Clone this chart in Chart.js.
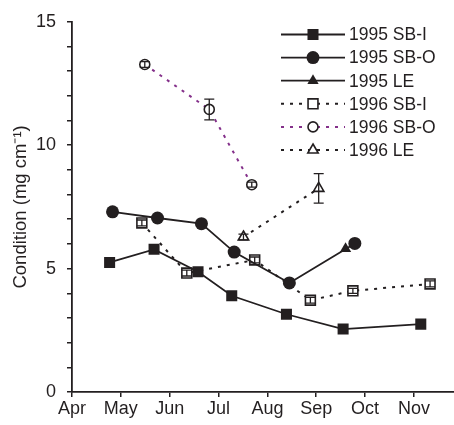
<!DOCTYPE html>
<html>
<head>
<meta charset="utf-8">
<script src="https://cdn.jsdelivr.net/npm/chart.js@4.4.1/dist/chart.umd.min.js"></script>
<style>
  html, body { margin: 0; padding: 0; background: #fff; overflow: hidden; }
</style>
</head>
<body>
<canvas id="myChart" width="454" height="425"></canvas>
<script>
// Monate auf der x-Achse (Apr = 0)
const monthLabels = ['Apr', 'May', 'Jun', 'Jul', 'Aug', 'Sep', 'Oct', 'Nov'];

// 1995 Serien (x = Monat, y = Condition)
const sbi95X = [0.77, 1.68, 2.58, 3.27, 4.39, 5.55, 7.14];
const sbi95Y = [5.25, 5.78, 4.87, 3.9, 3.15, 2.55, 2.75];
const sbo95X = [0.83, 1.75, 2.65, 3.32, 4.45, 5.79];
const sbo95Y = [7.3, 7.05, 6.82, 5.67, 4.42, 6.02];
const le95X = [5.6];
const le95Y = [5.8];

// 1996 Serien mit Fehlerbalken
const sbi96X = [1.43, 2.35, 3.74, 4.88, 5.75, 7.33];
const sbi96Y = [6.85, 4.82, 5.35, 3.72, 4.1, 4.38];
const sbi96Err = [0.12, 0.12, 0.12, 0.12, 0.1, 0.12];
const sbo96X = [1.49, 2.81, 3.68];
const sbo96Y = [13.27, 11.45, 8.4];
const sbo96Err = [0.12, 0.42, 0.1];
const le96X = [3.51, 5.05];
const le96Y = [6.28, 8.25];
const le96Err = [0.12, 0.6];

const ink = '#231f20';
const purple = '#84308a';
const fontFam = '"Liberation Sans", Arial, sans-serif';

function pts(xs, ys) {
    return xs.map((x, i) => ({ x: x, y: ys[i] }));
}

// Fehlerbalken zeichnen (über die Skalen)
const errorBars = {
    id: 'errorBars',
    afterDatasetsDraw(chart) {
        const ctx = chart.ctx;
        const xs = chart.scales.x, ys = chart.scales.y;
        chart.data.datasets.forEach(ds => {
            if (!ds.err) return;
            ctx.save();
            ctx.strokeStyle = ink;
            ctx.lineWidth = 1.3;
            ds.data.forEach((p, i) => {
                const e = ds.err[i];
                const px = xs.getPixelForValue(p.x);
                const top = ys.getPixelForValue(p.y + e);
                const bot = ys.getPixelForValue(p.y - e);
                ctx.beginPath();
                ctx.moveTo(px, top); ctx.lineTo(px, bot);
                ctx.moveTo(px - 5, top); ctx.lineTo(px + 5, top);
                ctx.moveTo(px - 5, bot); ctx.lineTo(px + 5, bot);
                ctx.stroke();
            });
            ctx.restore();
        });
    }
};

// Legende von Hand, wie im Original (Linie + Symbol)
const lineLegend = {
    id: 'lineLegend',
    afterDraw(chart) {
        const ctx = chart.ctx;
        const x0 = 281, x1 = 345, xm = 313;
        let y = 34.5;
        chart.data.datasets.forEach(ds => {
            ctx.save();
            ctx.strokeStyle = ds.borderColor;
            ctx.lineWidth = ds.borderWidth;
            ctx.setLineDash(ds.borderDash || []);
            ctx.beginPath();
            ctx.moveTo(x0, y); ctx.lineTo(x1, y);
            ctx.stroke();
            ctx.setLineDash([]);
            ctx.fillStyle = ds.pointBackgroundColor;
            ctx.strokeStyle = ds.pointBorderColor;
            ctx.lineWidth = ds.pointBorderWidth;
            Chart.helpers.drawPoint(ctx, {
                pointStyle: ds.pointStyle,
                radius: ds.pointRadius,
                rotation: 0,
                borderWidth: ds.pointBorderWidth
            }, xm, y);
            ctx.fillStyle = ink;
            ctx.font = '17.5px ' + fontFam;
            ctx.textBaseline = 'middle';
            ctx.fillText(ds.label, 349, y + 1);
            ctx.restore();
            y += 23.1;
        });
    }
};

const ctx = document.getElementById('myChart').getContext('2d');

let chart = new Chart(ctx, {
    type: 'line',
    data: {
        datasets: [
            {
                label: '1995 SB-I', data: pts(sbi95X, sbi95Y),
                borderColor: ink, borderWidth: 1.8,
                pointStyle: 'rect', pointRadius: 7.8, pointBorderWidth: 0,
                pointBackgroundColor: ink, pointBorderColor: ink
            },
            {
                label: '1995 SB-O', data: pts(sbo95X, sbo95Y),
                borderColor: ink, borderWidth: 1.8,
                pointStyle: 'circle', pointRadius: 6.5, pointBorderWidth: 0,
                pointBackgroundColor: ink, pointBorderColor: ink
            },
            {
                label: '1995 LE', data: pts(le95X, le95Y),
                borderColor: ink, borderWidth: 1.8,
                pointStyle: 'triangle', pointRadius: 6.5, pointBorderWidth: 0,
                pointBackgroundColor: ink, pointBorderColor: ink
            },
            {
                label: '1996 SB-I', data: pts(sbi96X, sbi96Y), err: sbi96Err,
                borderColor: ink, borderWidth: 2, borderDash: [3, 6],
                pointStyle: 'rect', pointRadius: 7, pointBorderWidth: 1.6,
                pointBackgroundColor: '#fff', pointBorderColor: ink
            },
            {
                label: '1996 SB-O', data: pts(sbo96X, sbo96Y), err: sbo96Err,
                borderColor: purple, borderWidth: 2, borderDash: [3, 6],
                pointStyle: 'circle', pointRadius: 5, pointBorderWidth: 1.6,
                pointBackgroundColor: '#fff', pointBorderColor: ink
            },
            {
                label: '1996 LE', data: pts(le96X, le96Y), err: le96Err,
                borderColor: ink, borderWidth: 2, borderDash: [3, 6],
                pointStyle: 'triangle', pointRadius: 6, pointBorderWidth: 1.6,
                pointBackgroundColor: '#fff', pointBorderColor: ink
            }
        ]
    },
    options: {
        responsive: false,
        animation: false,
        layout: { autoPadding: false, padding: { top: 20, right: 0, left: 0, bottom: 0 } },
        plugins: {
            legend: { display: false },
            tooltip: { enabled: false }
        },
        scales: {
            x: {
                type: 'linear',
                min: 0, max: 7.82,
                grid: { drawOnChartArea: false, drawTicks: true, tickLength: 5, color: ink, lineWidth: 1.5 },
                border: { color: ink, width: 1.8 },
                ticks: {
                    stepSize: 1, includeBounds: false, autoSkip: false, maxRotation: 0,
                    color: ink, padding: 1,
                    font: { family: fontFam, size: 18 },
                    callback: v => Number.isInteger(v) ? monthLabels[v] : ''
                },
                afterFit: s => { s.height = 33; }
            },
            y: {
                min: 0, max: 15,
                grid: { drawOnChartArea: false, drawTicks: true, tickLength: 5, color: ink, lineWidth: 1.5 },
                border: { color: ink, width: 1.8 },
                ticks: {
                    stepSize: 1, autoSkip: false, color: ink, padding: 11,
                    font: { family: fontFam, size: 18 },
                    callback: v => v % 5 === 0 ? String(v) : ''
                },
                title: {
                    display: true, text: 'Condition (mg cm⁻¹)', color: ink,
                    font: { family: fontFam, size: 18.5 },
                    padding: { top: 10, bottom: 0 }
                },
                afterFit: s => { s.width = 72; }
            }
        }
    },
    plugins: [errorBars, lineLegend]
});
</script>
</body>
</html>
